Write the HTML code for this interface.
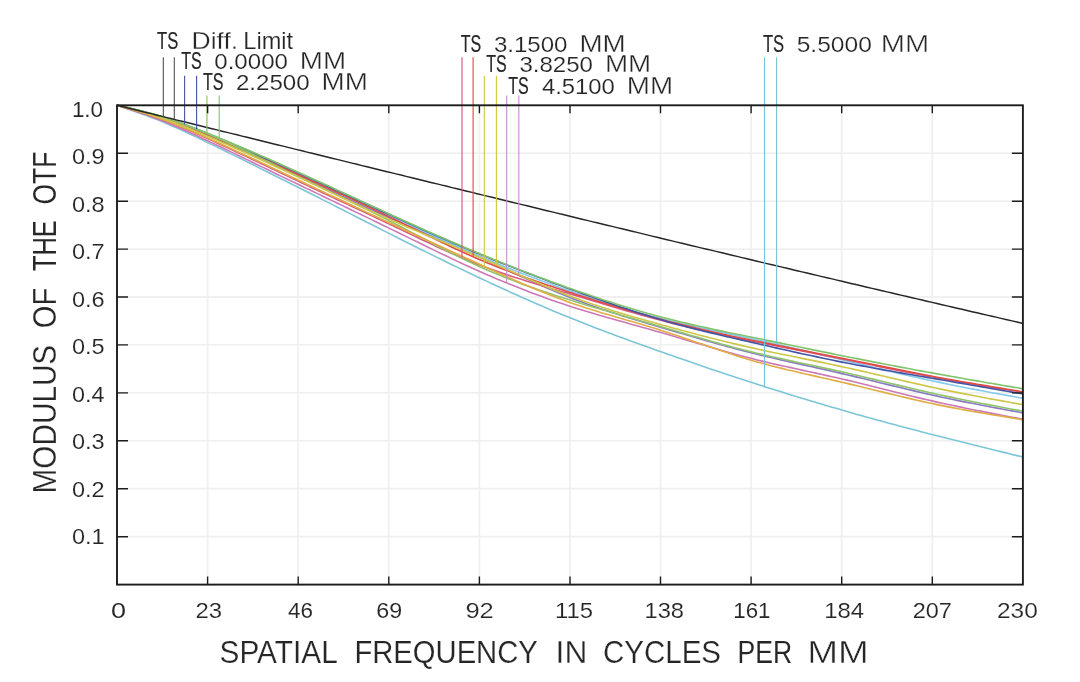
<!DOCTYPE html>
<html lang="en"><head><meta charset="utf-8"><title>MTF</title>
<style>html,body{margin:0;padding:0;background:#fff}svg{display:block}</style></head>
<body>
<svg width="1080" height="682" viewBox="0 0 1080 682">
<rect width="1080" height="682" fill="#fff"/>
<g stroke="#f0f0f1" stroke-width="1.8" fill="none">
<line x1="207.6" y1="105.3" x2="207.6" y2="584.6"/>
<line x1="117.0" y1="153.2" x2="1022.9" y2="153.2"/>
<line x1="298.2" y1="105.3" x2="298.2" y2="584.6"/>
<line x1="117.0" y1="201.2" x2="1022.9" y2="201.2"/>
<line x1="388.8" y1="105.3" x2="388.8" y2="584.6"/>
<line x1="117.0" y1="249.1" x2="1022.9" y2="249.1"/>
<line x1="479.4" y1="105.3" x2="479.4" y2="584.6"/>
<line x1="117.0" y1="297.0" x2="1022.9" y2="297.0"/>
<line x1="570.0" y1="105.3" x2="570.0" y2="584.6"/>
<line x1="117.0" y1="344.9" x2="1022.9" y2="344.9"/>
<line x1="660.5" y1="105.3" x2="660.5" y2="584.6"/>
<line x1="117.0" y1="392.9" x2="1022.9" y2="392.9"/>
<line x1="751.1" y1="105.3" x2="751.1" y2="584.6"/>
<line x1="117.0" y1="440.8" x2="1022.9" y2="440.8"/>
<line x1="841.7" y1="105.3" x2="841.7" y2="584.6"/>
<line x1="117.0" y1="488.7" x2="1022.9" y2="488.7"/>
<line x1="932.3" y1="105.3" x2="932.3" y2="584.6"/>
<line x1="117.0" y1="536.7" x2="1022.9" y2="536.7"/>
</g>
<g fill="none" stroke-width="1.6" stroke-linejoin="round">
<polyline stroke="#7cc6d8" points="117.0,105.3 122.0,107.0 127.0,108.7 132.0,110.4 137.0,112.2 142.0,113.9 147.0,115.8 152.0,117.7 157.0,119.6 162.0,121.6 167.0,123.7 172.0,125.9 177.0,128.1 182.0,130.3 187.0,132.7 192.0,135.0 197.0,137.4 202.0,139.8 207.0,142.2 212.0,144.6 217.0,147.1 222.0,149.5 227.0,152.0 232.0,154.4 237.0,156.9 242.0,159.3 247.0,161.8 252.0,164.2 257.0,166.7 262.0,169.2 267.0,171.7 272.0,174.2 277.0,176.7 282.0,179.2 287.0,181.7 292.0,184.2 297.0,186.7 302.0,189.2 307.0,191.8 312.0,194.3 317.0,196.8 322.0,199.4 327.0,201.9 332.0,204.4 337.0,207.0 342.0,209.5 347.0,212.1 352.0,214.6 357.0,217.2 362.0,219.7 367.0,222.3 372.0,224.8 377.0,227.3 382.0,229.9 387.0,232.4 392.0,234.9 397.0,237.5 402.0,240.0 407.0,242.5 412.0,245.0 417.0,247.5 422.0,250.0 427.0,252.4 432.0,254.9 437.0,257.4 442.0,259.8 447.0,262.3 452.0,264.7 457.0,267.1 462.0,269.5 467.0,271.9 472.0,274.3 477.0,276.7 482.0,279.0 487.0,281.4 492.0,283.7 497.0,286.0 502.0,288.3 507.0,290.6 512.0,292.9 517.0,295.1 522.0,297.4 527.0,299.6 532.0,301.8 537.0,304.0 542.0,306.1 547.0,308.3 552.0,310.4 557.0,312.5 562.0,314.6 567.0,316.6 572.0,318.6 577.0,320.6 582.0,322.6 587.0,324.6 592.0,326.5 597.0,328.4 602.0,330.3 607.0,332.2 612.0,334.1 617.0,336.0 622.0,337.8 627.0,339.6 632.0,341.4 637.0,343.2 642.0,345.0 647.0,346.8 652.0,348.6 657.0,350.4 662.0,352.1 667.0,353.9 672.0,355.6 677.0,357.4 682.0,359.1 687.0,360.8 692.0,362.5 697.0,364.3 702.0,366.0 707.0,367.7 712.0,369.4 717.0,371.0 722.0,372.7 727.0,374.4 732.0,376.0 737.0,377.7 742.0,379.3 747.0,381.0 752.0,382.6 757.0,384.2 762.0,385.8 767.0,387.4 772.0,389.0 777.0,390.5 782.0,392.1 787.0,393.7 792.0,395.2 797.0,396.7 802.0,398.3 807.0,399.8 812.0,401.3 817.0,402.8 822.0,404.2 827.0,405.7 832.0,407.2 837.0,408.6 842.0,410.1 847.0,411.5 852.0,412.9 857.0,414.4 862.0,415.8 867.0,417.2 872.0,418.5 877.0,419.9 882.0,421.3 887.0,422.7 892.0,424.0 897.0,425.3 902.0,426.7 907.0,428.0 912.0,429.3 917.0,430.6 922.0,431.9 927.0,433.2 932.0,434.5 937.0,435.8 942.0,437.1 947.0,438.3 952.0,439.6 957.0,440.8 962.0,442.1 967.0,443.3 972.0,444.6 977.0,445.8 982.0,447.0 987.0,448.3 992.0,449.5 997.0,450.7 1002.0,451.9 1007.0,453.1 1012.0,454.4 1017.0,455.6 1022.0,456.8 1022.9,457.0"/>
<polyline stroke="#cc78b8" points="117.0,105.3 122.0,106.9 127.0,108.5 132.0,110.1 137.0,111.7 142.0,113.4 147.0,115.1 152.0,116.9 157.0,118.8 162.0,120.7 167.0,122.7 172.0,124.7 177.0,126.9 182.0,129.0 187.0,131.3 192.0,133.5 197.0,135.8 202.0,138.2 207.0,140.5 212.0,142.9 217.0,145.3 222.0,147.6 227.0,150.0 232.0,152.4 237.0,154.8 242.0,157.2 247.0,159.6 252.0,162.0 257.0,164.5 262.0,166.9 267.0,169.3 272.0,171.7 277.0,174.2 282.0,176.6 287.0,179.0 292.0,181.4 297.0,183.8 302.0,186.2 307.0,188.6 312.0,191.0 317.0,193.4 322.0,195.8 327.0,198.2 332.0,200.6 337.0,203.0 342.0,205.4 347.0,207.8 352.0,210.2 357.0,212.6 362.0,215.0 367.0,217.4 372.0,219.9 377.0,222.3 382.0,224.7 387.0,227.1 392.0,229.6 397.0,232.0 402.0,234.5 407.0,236.9 412.0,239.4 417.0,241.8 422.0,244.3 427.0,246.7 432.0,249.1 437.0,251.6 442.0,254.0 447.0,256.3 452.0,258.7 457.0,261.1 462.0,263.4 467.0,265.7 472.0,268.0 477.0,270.2 482.0,272.5 487.0,274.7 492.0,276.8 497.0,279.0 502.0,281.0 507.0,283.1 512.0,285.1 517.0,287.1 522.0,289.1 527.0,291.0 532.0,292.9 537.0,294.8 542.0,296.6 547.0,298.4 552.0,300.2 557.0,301.9 562.0,303.6 567.0,305.2 572.0,306.9 577.0,308.4 582.0,310.0 587.0,311.5 592.0,313.0 597.0,314.5 602.0,315.9 607.0,317.4 612.0,318.8 617.0,320.2 622.0,321.6 627.0,323.0 632.0,324.4 637.0,325.8 642.0,327.2 647.0,328.6 652.0,330.0 657.0,331.4 662.0,332.8 667.0,334.3 672.0,335.7 677.0,337.2 682.0,338.7 687.0,340.2 692.0,341.7 697.0,343.2 702.0,344.6 707.0,346.1 712.0,347.6 717.0,349.0 722.0,350.5 727.0,351.9 732.0,353.3 737.0,354.7 742.0,356.0 747.0,357.3 752.0,358.6 757.0,359.9 762.0,361.1 767.0,362.3 772.0,363.5 777.0,364.6 782.0,365.7 787.0,366.8 792.0,367.9 797.0,369.0 802.0,370.1 807.0,371.2 812.0,372.3 817.0,373.4 822.0,374.5 827.0,375.6 832.0,376.7 837.0,377.8 842.0,379.0 847.0,380.1 852.0,381.3 857.0,382.5 862.0,383.7 867.0,385.0 872.0,386.2 877.0,387.5 882.0,388.7 887.0,390.0 892.0,391.2 897.0,392.5 902.0,393.7 907.0,395.0 912.0,396.2 917.0,397.4 922.0,398.6 927.0,399.8 932.0,400.9 937.0,402.1 942.0,403.2 947.0,404.3 952.0,405.3 957.0,406.4 962.0,407.4 967.0,408.5 972.0,409.5 977.0,410.5 982.0,411.4 987.0,412.4 992.0,413.4 997.0,414.3 1002.0,415.3 1007.0,416.2 1012.0,417.2 1017.0,418.1 1022.0,419.0 1022.9,419.2"/>
<polyline stroke="#8a7ac2" points="117.0,105.3 122.0,106.5 127.0,107.8 132.0,109.1 137.0,110.4 142.0,111.7 147.0,113.1 152.0,114.6 157.0,116.1 162.0,117.7 167.0,119.4 172.0,121.1 177.0,123.0 182.0,124.9 187.0,126.8 192.0,128.8 197.0,130.9 202.0,133.0 207.0,135.1 212.0,137.2 217.0,139.3 222.0,141.4 227.0,143.6 232.0,145.8 237.0,147.9 242.0,150.1 247.0,152.4 252.0,154.6 257.0,156.8 262.0,159.1 267.0,161.3 272.0,163.6 277.0,165.9 282.0,168.1 287.0,170.4 292.0,172.7 297.0,175.1 302.0,177.4 307.0,179.7 312.0,182.0 317.0,184.4 322.0,186.7 327.0,189.1 332.0,191.4 337.0,193.7 342.0,196.1 347.0,198.4 352.0,200.7 357.0,203.1 362.0,205.4 367.0,207.7 372.0,209.9 377.0,212.2 382.0,214.5 387.0,216.7 392.0,218.9 397.0,221.1 402.0,223.3 407.0,225.5 412.0,227.7 417.0,229.8 422.0,232.0 427.0,234.1 432.0,236.3 437.0,238.4 442.0,240.6 447.0,242.7 452.0,244.9 457.0,247.1 462.0,249.3 467.0,251.5 472.0,253.7 477.0,255.9 482.0,258.2 487.0,260.5 492.0,262.8 497.0,265.1 502.0,267.4 507.0,269.7 512.0,272.1 517.0,274.4 522.0,276.7 527.0,279.0 532.0,281.3 537.0,283.5 542.0,285.7 547.0,287.9 552.0,290.1 557.0,292.2 562.0,294.3 567.0,296.3 572.0,298.3 577.0,300.2 582.0,302.1 587.0,303.9 592.0,305.7 597.0,307.5 602.0,309.2 607.0,310.8 612.0,312.5 617.0,314.1 622.0,315.7 627.0,317.2 632.0,318.8 637.0,320.3 642.0,321.8 647.0,323.3 652.0,324.8 657.0,326.3 662.0,327.7 667.0,329.2 672.0,330.7 677.0,332.2 682.0,333.6 687.0,335.1 692.0,336.6 697.0,338.0 702.0,339.5 707.0,340.9 712.0,342.3 717.0,343.7 722.0,345.1 727.0,346.5 732.0,347.8 737.0,349.2 742.0,350.5 747.0,351.8 752.0,353.0 757.0,354.3 762.0,355.5 767.0,356.7 772.0,357.8 777.0,359.0 782.0,360.1 787.0,361.3 792.0,362.4 797.0,363.5 802.0,364.6 807.0,365.7 812.0,366.8 817.0,367.9 822.0,369.0 827.0,370.1 832.0,371.3 837.0,372.4 842.0,373.6 847.0,374.7 852.0,375.9 857.0,377.1 862.0,378.3 867.0,379.5 872.0,380.7 877.0,382.0 882.0,383.2 887.0,384.4 892.0,385.6 897.0,386.8 902.0,388.0 907.0,389.2 912.0,390.4 917.0,391.6 922.0,392.8 927.0,393.9 932.0,395.0 937.0,396.1 942.0,397.2 947.0,398.3 952.0,399.3 957.0,400.4 962.0,401.4 967.0,402.4 972.0,403.3 977.0,404.3 982.0,405.3 987.0,406.2 992.0,407.2 997.0,408.1 1002.0,409.0 1007.0,410.0 1012.0,410.9 1017.0,411.8 1022.0,412.7 1022.9,412.9"/>
<polyline stroke="#84cbec" points="117.0,105.3 122.0,106.5 127.0,107.6 132.0,108.8 137.0,110.1 142.0,111.3 147.0,112.7 152.0,114.1 157.0,115.5 162.0,117.0 167.0,118.7 172.0,120.4 177.0,122.1 182.0,124.0 187.0,125.9 192.0,127.8 197.0,129.8 202.0,131.8 207.0,133.9 212.0,135.9 217.0,138.0 222.0,140.1 227.0,142.2 232.0,144.3 237.0,146.5 242.0,148.6 247.0,150.8 252.0,153.0 257.0,155.2 262.0,157.4 267.0,159.6 272.0,161.8 277.0,164.1 282.0,166.3 287.0,168.6 292.0,170.8 297.0,173.1 302.0,175.3 307.0,177.6 312.0,179.9 317.0,182.2 322.0,184.4 327.0,186.7 332.0,189.0 337.0,191.3 342.0,193.6 347.0,195.9 352.0,198.2 357.0,200.5 362.0,202.8 367.0,205.1 372.0,207.4 377.0,209.8 382.0,212.1 387.0,214.4 392.0,216.7 397.0,219.0 402.0,221.3 407.0,223.6 412.0,225.9 417.0,228.2 422.0,230.5 427.0,232.8 432.0,235.1 437.0,237.4 442.0,239.6 447.0,241.9 452.0,244.1 457.0,246.3 462.0,248.5 467.0,250.7 472.0,252.8 477.0,255.0 482.0,257.1 487.0,259.2 492.0,261.3 497.0,263.4 502.0,265.4 507.0,267.4 512.0,269.4 517.0,271.4 522.0,273.4 527.0,275.3 532.0,277.2 537.0,279.1 542.0,281.0 547.0,282.8 552.0,284.6 557.0,286.4 562.0,288.2 567.0,290.0 572.0,291.7 577.0,293.4 582.0,295.1 587.0,296.8 592.0,298.4 597.0,300.1 602.0,301.7 607.0,303.2 612.0,304.8 617.0,306.3 622.0,307.8 627.0,309.3 632.0,310.7 637.0,312.1 642.0,313.5 647.0,314.9 652.0,316.2 657.0,317.5 662.0,318.8 667.0,320.0 672.0,321.2 677.0,322.4 682.0,323.6 687.0,324.7 692.0,325.9 697.0,327.0 702.0,328.1 707.0,329.2 712.0,330.2 717.0,331.3 722.0,332.4 727.0,333.4 732.0,334.5 737.0,335.6 742.0,336.6 747.0,337.7 752.0,338.8 757.0,339.9 762.0,341.0 767.0,342.1 772.0,343.2 777.0,344.4 782.0,345.5 787.0,346.6 792.0,347.8 797.0,349.0 802.0,350.1 807.0,351.3 812.0,352.5 817.0,353.7 822.0,354.9 827.0,356.1 832.0,357.3 837.0,358.5 842.0,359.7 847.0,360.9 852.0,362.1 857.0,363.3 862.0,364.5 867.0,365.7 872.0,367.0 877.0,368.2 882.0,369.4 887.0,370.6 892.0,371.7 897.0,372.9 902.0,374.1 907.0,375.3 912.0,376.4 917.0,377.5 922.0,378.6 927.0,379.7 932.0,380.8 937.0,381.9 942.0,382.9 947.0,384.0 952.0,385.0 957.0,386.0 962.0,387.0 967.0,388.0 972.0,388.9 977.0,389.9 982.0,390.8 987.0,391.7 992.0,392.7 997.0,393.6 1002.0,394.5 1007.0,395.4 1012.0,396.3 1017.0,397.2 1022.0,398.1 1022.9,398.3"/>
<polyline stroke="#d85c80" points="117.0,105.3 122.0,106.8 127.0,108.2 132.0,109.7 137.0,111.2 142.0,112.7 147.0,114.3 152.0,116.0 157.0,117.7 162.0,119.5 167.0,121.4 172.0,123.3 177.0,125.3 182.0,127.4 187.0,129.5 192.0,131.6 197.0,133.8 202.0,136.1 207.0,138.3 212.0,140.6 217.0,142.9 222.0,145.2 227.0,147.5 232.0,149.9 237.0,152.2 242.0,154.5 247.0,156.9 252.0,159.3 257.0,161.6 262.0,164.0 267.0,166.4 272.0,168.8 277.0,171.1 282.0,173.5 287.0,175.9 292.0,178.3 297.0,180.6 302.0,183.0 307.0,185.4 312.0,187.7 317.0,190.1 322.0,192.4 327.0,194.7 332.0,197.1 337.0,199.4 342.0,201.8 347.0,204.1 352.0,206.4 357.0,208.8 362.0,211.1 367.0,213.5 372.0,215.8 377.0,218.2 382.0,220.6 387.0,223.0 392.0,225.3 397.0,227.7 402.0,230.1 407.0,232.5 412.0,234.9 417.0,237.3 422.0,239.7 427.0,242.0 432.0,244.4 437.0,246.7 442.0,248.9 447.0,251.2 452.0,253.4 457.0,255.6 462.0,257.7 467.0,259.8 472.0,261.9 477.0,263.9 482.0,265.8 487.0,267.7 492.0,269.5 497.0,271.3 502.0,273.0 507.0,274.7 512.0,276.4 517.0,278.0 522.0,279.6 527.0,281.2 532.0,282.7 537.0,284.2 542.0,285.7 547.0,287.2 552.0,288.7 557.0,290.2 562.0,291.7 567.0,293.1 572.0,294.6 577.0,296.1 582.0,297.6 587.0,299.1 592.0,300.6 597.0,302.1 602.0,303.6 607.0,305.0 612.0,306.5 617.0,308.0 622.0,309.5 627.0,310.9 632.0,312.3 637.0,313.8 642.0,315.2 647.0,316.6 652.0,317.9 657.0,319.3 662.0,320.6 667.0,321.9 672.0,323.1 677.0,324.4 682.0,325.6 687.0,326.8 692.0,328.0 697.0,329.1 702.0,330.3 707.0,331.4 712.0,332.5 717.0,333.6 722.0,334.7 727.0,335.8 732.0,336.8 737.0,337.9 742.0,338.9 747.0,340.0 752.0,341.0 757.0,342.0 762.0,343.0 767.0,344.0 772.0,345.0 777.0,346.0 782.0,347.0 787.0,348.0 792.0,349.0 797.0,350.0 802.0,351.0 807.0,352.0 812.0,353.0 817.0,354.0 822.0,355.0 827.0,356.0 832.0,357.0 837.0,358.0 842.0,359.0 847.0,360.0 852.0,361.0 857.0,362.0 862.0,363.0 867.0,364.0 872.0,365.0 877.0,366.1 882.0,367.1 887.0,368.1 892.0,369.1 897.0,370.1 902.0,371.1 907.0,372.1 912.0,373.0 917.0,374.0 922.0,375.0 927.0,375.9 932.0,376.8 937.0,377.8 942.0,378.7 947.0,379.6 952.0,380.5 957.0,381.3 962.0,382.2 967.0,383.1 972.0,383.9 977.0,384.8 982.0,385.6 987.0,386.4 992.0,387.3 997.0,388.1 1002.0,388.9 1007.0,389.7 1012.0,390.5 1017.0,391.3 1022.0,392.2 1022.9,392.3"/>
<polyline stroke="#e04c44" points="117.0,105.3 122.0,106.5 127.0,107.7 132.0,109.0 137.0,110.2 142.0,111.5 147.0,112.9 152.0,114.3 157.0,115.8 162.0,117.4 167.0,119.0 172.0,120.7 177.0,122.6 182.0,124.4 187.0,126.3 192.0,128.3 197.0,130.3 202.0,132.4 207.0,134.5 212.0,136.5 217.0,138.7 222.0,140.8 227.0,142.9 232.0,145.1 237.0,147.3 242.0,149.5 247.0,151.7 252.0,153.9 257.0,156.1 262.0,158.3 267.0,160.6 272.0,162.8 277.0,165.0 282.0,167.3 287.0,169.5 292.0,171.8 297.0,174.1 302.0,176.3 307.0,178.6 312.0,180.9 317.0,183.1 322.0,185.4 327.0,187.7 332.0,189.9 337.0,192.2 342.0,194.5 347.0,196.8 352.0,199.1 357.0,201.5 362.0,203.8 367.0,206.1 372.0,208.5 377.0,210.9 382.0,213.2 387.0,215.6 392.0,218.1 397.0,220.5 402.0,222.9 407.0,225.4 412.0,227.8 417.0,230.3 422.0,232.8 427.0,235.2 432.0,237.6 437.0,240.1 442.0,242.5 447.0,244.8 452.0,247.2 457.0,249.5 462.0,251.8 467.0,254.1 472.0,256.3 477.0,258.5 482.0,260.6 487.0,262.7 492.0,264.8 497.0,266.8 502.0,268.7 507.0,270.6 512.0,272.5 517.0,274.4 522.0,276.2 527.0,278.0 532.0,279.7 537.0,281.5 542.0,283.2 547.0,284.9 552.0,286.5 557.0,288.2 562.0,289.8 567.0,291.4 572.0,293.1 577.0,294.7 582.0,296.2 587.0,297.8 592.0,299.4 597.0,300.9 602.0,302.5 607.0,304.0 612.0,305.5 617.0,307.0 622.0,308.5 627.0,309.9 632.0,311.3 637.0,312.8 642.0,314.2 647.0,315.6 652.0,316.9 657.0,318.3 662.0,319.6 667.0,320.9 672.0,322.2 677.0,323.4 682.0,324.7 687.0,325.9 692.0,327.1 697.0,328.3 702.0,329.5 707.0,330.6 712.0,331.7 717.0,332.9 722.0,334.0 727.0,335.1 732.0,336.2 737.0,337.2 742.0,338.3 747.0,339.3 752.0,340.4 757.0,341.4 762.0,342.4 767.0,343.4 772.0,344.4 777.0,345.4 782.0,346.4 787.0,347.4 792.0,348.4 797.0,349.4 802.0,350.4 807.0,351.3 812.0,352.3 817.0,353.3 822.0,354.3 827.0,355.3 832.0,356.3 837.0,357.3 842.0,358.3 847.0,359.3 852.0,360.3 857.0,361.3 862.0,362.3 867.0,363.3 872.0,364.3 877.0,365.4 882.0,366.4 887.0,367.4 892.0,368.4 897.0,369.4 902.0,370.4 907.0,371.4 912.0,372.4 917.0,373.4 922.0,374.3 927.0,375.3 932.0,376.2 937.0,377.2 942.0,378.1 947.0,379.0 952.0,379.9 957.0,380.8 962.0,381.7 967.0,382.5 972.0,383.4 977.0,384.2 982.0,385.1 987.0,385.9 992.0,386.7 997.0,387.6 1002.0,388.4 1007.0,389.2 1012.0,390.0 1017.0,390.8 1022.0,391.7 1022.9,391.8"/>
<polyline stroke="#4454a4" points="117.0,105.3 122.0,106.4 127.0,107.6 132.0,108.8 137.0,110.0 142.0,111.2 147.0,112.5 152.0,113.8 157.0,115.3 162.0,116.8 167.0,118.4 172.0,120.0 177.0,121.8 182.0,123.6 187.0,125.5 192.0,127.4 197.0,129.3 202.0,131.3 207.0,133.4 212.0,135.4 217.0,137.5 222.0,139.5 227.0,141.6 232.0,143.7 237.0,145.9 242.0,148.0 247.0,150.1 252.0,152.3 257.0,154.5 262.0,156.7 267.0,158.9 272.0,161.1 277.0,163.3 282.0,165.5 287.0,167.8 292.0,170.0 297.0,172.3 302.0,174.5 307.0,176.8 312.0,179.1 317.0,181.4 322.0,183.6 327.0,185.9 332.0,188.2 337.0,190.5 342.0,192.8 347.0,195.1 352.0,197.4 357.0,199.7 362.0,202.0 367.0,204.3 372.0,206.6 377.0,208.9 382.0,211.2 387.0,213.5 392.0,215.8 397.0,218.0 402.0,220.3 407.0,222.6 412.0,224.8 417.0,227.1 422.0,229.3 427.0,231.5 432.0,233.7 437.0,235.9 442.0,238.1 447.0,240.3 452.0,242.5 457.0,244.6 462.0,246.7 467.0,248.8 472.0,250.9 477.0,253.0 482.0,255.1 487.0,257.1 492.0,259.2 497.0,261.2 502.0,263.2 507.0,265.1 512.0,267.1 517.0,269.1 522.0,271.0 527.0,272.9 532.0,274.8 537.0,276.7 542.0,278.6 547.0,280.5 552.0,282.4 557.0,284.2 562.0,286.1 567.0,287.9 572.0,289.8 577.0,291.6 582.0,293.4 587.0,295.2 592.0,297.0 597.0,298.8 602.0,300.6 607.0,302.3 612.0,304.0 617.0,305.8 622.0,307.4 627.0,309.1 632.0,310.8 637.0,312.4 642.0,314.0 647.0,315.5 652.0,317.1 657.0,318.6 662.0,320.0 667.0,321.5 672.0,322.9 677.0,324.2 682.0,325.6 687.0,326.9 692.0,328.2 697.0,329.4 702.0,330.7 707.0,331.9 712.0,333.1 717.0,334.3 722.0,335.5 727.0,336.7 732.0,337.8 737.0,339.0 742.0,340.1 747.0,341.3 752.0,342.4 757.0,343.5 762.0,344.7 767.0,345.8 772.0,347.0 777.0,348.1 782.0,349.2 787.0,350.3 792.0,351.5 797.0,352.6 802.0,353.7 807.0,354.8 812.0,355.8 817.0,356.9 822.0,358.0 827.0,359.0 832.0,360.0 837.0,361.1 842.0,362.1 847.0,363.0 852.0,364.0 857.0,365.0 862.0,365.9 867.0,366.8 872.0,367.8 877.0,368.7 882.0,369.6 887.0,370.5 892.0,371.3 897.0,372.2 902.0,373.1 907.0,374.0 912.0,374.8 917.0,375.7 922.0,376.5 927.0,377.4 932.0,378.2 937.0,379.1 942.0,380.0 947.0,380.8 952.0,381.7 957.0,382.6 962.0,383.4 967.0,384.3 972.0,385.2 977.0,386.0 982.0,386.9 987.0,387.8 992.0,388.6 997.0,389.5 1002.0,390.4 1007.0,391.2 1012.0,392.1 1017.0,393.0 1022.0,393.8 1022.9,394.0"/>
<polyline stroke="#80c46e" points="117.0,105.3 122.0,106.4 127.0,107.5 132.0,108.7 137.0,109.9 142.0,111.1 147.0,112.4 152.0,113.7 157.0,115.1 162.0,116.6 167.0,118.2 172.0,119.8 177.0,121.6 182.0,123.4 187.0,125.2 192.0,127.1 197.0,129.1 202.0,131.1 207.0,133.1 212.0,135.1 217.0,137.1 222.0,139.2 227.0,141.3 232.0,143.3 237.0,145.4 242.0,147.6 247.0,149.7 252.0,151.8 257.0,154.0 262.0,156.2 267.0,158.3 272.0,160.5 277.0,162.7 282.0,165.0 287.0,167.2 292.0,169.4 297.0,171.7 302.0,173.9 307.0,176.2 312.0,178.5 317.0,180.7 322.0,183.0 327.0,185.3 332.0,187.6 337.0,189.9 342.0,192.2 347.0,194.5 352.0,196.8 357.0,199.1 362.0,201.4 367.0,203.7 372.0,206.0 377.0,208.3 382.0,210.6 387.0,212.9 392.0,215.2 397.0,217.5 402.0,219.7 407.0,222.0 412.0,224.3 417.0,226.5 422.0,228.8 427.0,231.0 432.0,233.2 437.0,235.4 442.0,237.6 447.0,239.8 452.0,242.0 457.0,244.1 462.0,246.3 467.0,248.4 472.0,250.5 477.0,252.6 482.0,254.7 487.0,256.8 492.0,258.8 497.0,260.8 502.0,262.8 507.0,264.8 512.0,266.8 517.0,268.7 522.0,270.7 527.0,272.6 532.0,274.5 537.0,276.4 542.0,278.2 547.0,280.1 552.0,281.9 557.0,283.8 562.0,285.6 567.0,287.4 572.0,289.1 577.0,290.9 582.0,292.6 587.0,294.3 592.0,296.0 597.0,297.7 602.0,299.4 607.0,301.0 612.0,302.6 617.0,304.2 622.0,305.8 627.0,307.3 632.0,308.8 637.0,310.3 642.0,311.8 647.0,313.2 652.0,314.6 657.0,316.0 662.0,317.3 667.0,318.6 672.0,319.8 677.0,321.1 682.0,322.3 687.0,323.4 692.0,324.6 697.0,325.7 702.0,326.8 707.0,327.9 712.0,329.0 717.0,330.1 722.0,331.1 727.0,332.2 732.0,333.2 737.0,334.2 742.0,335.2 747.0,336.3 752.0,337.3 757.0,338.3 762.0,339.3 767.0,340.4 772.0,341.4 777.0,342.4 782.0,343.4 787.0,344.5 792.0,345.5 797.0,346.5 802.0,347.5 807.0,348.6 812.0,349.6 817.0,350.6 822.0,351.6 827.0,352.6 832.0,353.6 837.0,354.7 842.0,355.7 847.0,356.7 852.0,357.7 857.0,358.6 862.0,359.6 867.0,360.6 872.0,361.6 877.0,362.6 882.0,363.5 887.0,364.5 892.0,365.5 897.0,366.4 902.0,367.4 907.0,368.3 912.0,369.3 917.0,370.2 922.0,371.1 927.0,372.0 932.0,372.9 937.0,373.9 942.0,374.8 947.0,375.6 952.0,376.5 957.0,377.4 962.0,378.3 967.0,379.2 972.0,380.1 977.0,380.9 982.0,381.8 987.0,382.7 992.0,383.5 997.0,384.4 1002.0,385.2 1007.0,386.1 1012.0,386.9 1017.0,387.8 1022.0,388.6 1022.9,388.8"/>
<polyline stroke="#90c46c" points="117.0,105.3 122.0,106.5 127.0,107.6 132.0,108.8 137.0,110.0 142.0,111.3 147.0,112.6 152.0,114.0 157.0,115.4 162.0,116.9 167.0,118.5 172.0,120.1 177.0,121.8 182.0,123.6 187.0,125.5 192.0,127.4 197.0,129.4 202.0,131.5 207.0,133.6 212.0,135.7 217.0,137.9 222.0,140.1 227.0,142.3 232.0,144.6 237.0,146.9 242.0,149.3 247.0,151.7 252.0,154.0 257.0,156.4 262.0,158.9 267.0,161.3 272.0,163.7 277.0,166.2 282.0,168.6 287.0,171.1 292.0,173.5 297.0,175.9 302.0,178.3 307.0,180.8 312.0,183.2 317.0,185.5 322.0,187.9 327.0,190.3 332.0,192.7 337.0,195.1 342.0,197.5 347.0,199.9 352.0,202.3 357.0,204.7 362.0,207.2 367.0,209.6 372.0,212.1 377.0,214.6 382.0,217.1 387.0,219.6 392.0,222.2 397.0,224.7 402.0,227.3 407.0,230.0 412.0,232.6 417.0,235.2 422.0,237.8 427.0,240.5 432.0,243.1 437.0,245.7 442.0,248.3 447.0,250.8 452.0,253.4 457.0,255.9 462.0,258.3 467.0,260.7 472.0,263.1 477.0,265.4 482.0,267.7 487.0,269.9 492.0,272.0 497.0,274.1 502.0,276.2 507.0,278.2 512.0,280.1 517.0,282.0 522.0,283.9 527.0,285.7 532.0,287.5 537.0,289.2 542.0,290.9 547.0,292.6 552.0,294.3 557.0,295.9 562.0,297.5 567.0,299.1 572.0,300.6 577.0,302.2 582.0,303.7 587.0,305.2 592.0,306.7 597.0,308.2 602.0,309.6 607.0,311.1 612.0,312.6 617.0,314.0 622.0,315.4 627.0,316.9 632.0,318.3 637.0,319.7 642.0,321.2 647.0,322.6 652.0,324.0 657.0,325.5 662.0,326.9 667.0,328.4 672.0,329.8 677.0,331.3 682.0,332.7 687.0,334.2 692.0,335.7 697.0,337.1 702.0,338.5 707.0,340.0 712.0,341.4 717.0,342.8 722.0,344.2 727.0,345.5 732.0,346.9 737.0,348.2 742.0,349.5 747.0,350.8 752.0,352.0 757.0,353.2 762.0,354.4 767.0,355.6 772.0,356.7 777.0,357.8 782.0,358.9 787.0,360.0 792.0,361.1 797.0,362.2 802.0,363.2 807.0,364.3 812.0,365.3 817.0,366.4 822.0,367.5 827.0,368.6 832.0,369.6 837.0,370.7 842.0,371.9 847.0,373.0 852.0,374.2 857.0,375.3 862.0,376.5 867.0,377.7 872.0,378.9 877.0,380.1 882.0,381.3 887.0,382.5 892.0,383.7 897.0,384.9 902.0,386.1 907.0,387.3 912.0,388.5 917.0,389.7 922.0,390.9 927.0,392.0 932.0,393.1 937.0,394.2 942.0,395.3 947.0,396.4 952.0,397.4 957.0,398.5 962.0,399.5 967.0,400.5 972.0,401.5 977.0,402.5 982.0,403.5 987.0,404.4 992.0,405.4 997.0,406.3 1002.0,407.3 1007.0,408.2 1012.0,409.2 1017.0,410.1 1022.0,411.0 1022.9,411.2"/>
<polyline stroke="#e0ac44" points="117.0,105.3 122.0,106.7 127.0,108.1 132.0,109.6 137.0,111.0 142.0,112.6 147.0,114.1 152.0,115.7 157.0,117.4 162.0,119.2 167.0,121.0 172.0,122.9 177.0,124.9 182.0,126.9 187.0,129.0 192.0,131.1 197.0,133.3 202.0,135.5 207.0,137.7 212.0,140.0 217.0,142.2 222.0,144.5 227.0,146.8 232.0,149.1 237.0,151.4 242.0,153.7 247.0,156.0 252.0,158.3 257.0,160.6 262.0,163.0 267.0,165.3 272.0,167.7 277.0,170.0 282.0,172.4 287.0,174.7 292.0,177.1 297.0,179.4 302.0,181.8 307.0,184.2 312.0,186.5 317.0,188.9 322.0,191.2 327.0,193.6 332.0,195.9 337.0,198.3 342.0,200.6 347.0,203.0 352.0,205.3 357.0,207.7 362.0,210.0 367.0,212.4 372.0,214.7 377.0,217.0 382.0,219.4 387.0,221.7 392.0,224.0 397.0,226.3 402.0,228.6 407.0,230.9 412.0,233.3 417.0,235.6 422.0,237.9 427.0,240.2 432.0,242.5 437.0,244.8 442.0,247.1 447.0,249.4 452.0,251.7 457.0,254.0 462.0,256.2 467.0,258.5 472.0,260.8 477.0,263.1 482.0,265.4 487.0,267.7 492.0,270.0 497.0,272.3 502.0,274.5 507.0,276.8 512.0,279.0 517.0,281.2 522.0,283.4 527.0,285.5 532.0,287.7 537.0,289.8 542.0,291.8 547.0,293.8 552.0,295.8 557.0,297.7 562.0,299.6 567.0,301.4 572.0,303.2 577.0,304.9 582.0,306.6 587.0,308.2 592.0,309.8 597.0,311.3 602.0,312.9 607.0,314.3 612.0,315.8 617.0,317.3 622.0,318.7 627.0,320.2 632.0,321.6 637.0,323.1 642.0,324.6 647.0,326.0 652.0,327.6 657.0,329.1 662.0,330.7 667.0,332.3 672.0,333.9 677.0,335.6 682.0,337.3 687.0,339.0 692.0,340.7 697.0,342.4 702.0,344.1 707.0,345.9 712.0,347.6 717.0,349.3 722.0,351.0 727.0,352.6 732.0,354.3 737.0,355.9 742.0,357.4 747.0,359.0 752.0,360.5 757.0,361.9 762.0,363.3 767.0,364.6 772.0,365.9 777.0,367.2 782.0,368.4 787.0,369.7 792.0,370.8 797.0,372.0 802.0,373.2 807.0,374.3 812.0,375.4 817.0,376.6 822.0,377.7 827.0,378.8 832.0,380.0 837.0,381.1 842.0,382.3 847.0,383.4 852.0,384.6 857.0,385.8 862.0,387.0 867.0,388.3 872.0,389.5 877.0,390.7 882.0,391.9 887.0,393.1 892.0,394.3 897.0,395.5 902.0,396.7 907.0,397.9 912.0,399.1 917.0,400.2 922.0,401.4 927.0,402.5 932.0,403.5 937.0,404.6 942.0,405.6 947.0,406.6 952.0,407.6 957.0,408.5 962.0,409.5 967.0,410.4 972.0,411.3 977.0,412.1 982.0,413.0 987.0,413.8 992.0,414.7 997.0,415.5 1002.0,416.3 1007.0,417.1 1012.0,417.9 1017.0,418.8 1022.0,419.6 1022.9,419.7"/>
<polyline stroke="#cec648" points="117.0,105.3 122.0,106.6 127.0,107.9 132.0,109.2 137.0,110.6 142.0,112.0 147.0,113.4 152.0,115.0 157.0,116.5 162.0,118.2 167.0,119.9 172.0,121.7 177.0,123.6 182.0,125.6 187.0,127.6 192.0,129.6 197.0,131.7 202.0,133.8 207.0,135.9 212.0,138.1 217.0,140.3 222.0,142.4 227.0,144.6 232.0,146.8 237.0,149.0 242.0,151.3 247.0,153.5 252.0,155.8 257.0,158.0 262.0,160.3 267.0,162.6 272.0,164.9 277.0,167.2 282.0,169.5 287.0,171.8 292.0,174.1 297.0,176.4 302.0,178.8 307.0,181.1 312.0,183.5 317.0,185.9 322.0,188.2 327.0,190.6 332.0,192.9 337.0,195.3 342.0,197.6 347.0,200.0 352.0,202.3 357.0,204.6 362.0,206.9 367.0,209.2 372.0,211.5 377.0,213.8 382.0,216.0 387.0,218.2 392.0,220.4 397.0,222.6 402.0,224.7 407.0,226.9 412.0,229.0 417.0,231.1 422.0,233.2 427.0,235.2 432.0,237.3 437.0,239.4 442.0,241.5 447.0,243.5 452.0,245.6 457.0,247.7 462.0,249.8 467.0,251.9 472.0,254.0 477.0,256.2 482.0,258.3 487.0,260.5 492.0,262.7 497.0,264.9 502.0,267.2 507.0,269.4 512.0,271.6 517.0,273.8 522.0,276.0 527.0,278.2 532.0,280.4 537.0,282.6 542.0,284.7 547.0,286.8 552.0,288.9 557.0,290.9 562.0,292.9 567.0,294.9 572.0,296.8 577.0,298.6 582.0,300.4 587.0,302.2 592.0,303.9 597.0,305.6 602.0,307.2 607.0,308.8 612.0,310.4 617.0,312.0 622.0,313.5 627.0,315.0 632.0,316.4 637.0,317.9 642.0,319.3 647.0,320.7 652.0,322.1 657.0,323.5 662.0,324.9 667.0,326.3 672.0,327.7 677.0,329.0 682.0,330.4 687.0,331.7 692.0,333.1 697.0,334.4 702.0,335.7 707.0,337.0 712.0,338.3 717.0,339.5 722.0,340.8 727.0,342.0 732.0,343.2 737.0,344.4 742.0,345.6 747.0,346.8 752.0,347.9 757.0,349.0 762.0,350.1 767.0,351.2 772.0,352.2 777.0,353.3 782.0,354.3 787.0,355.3 792.0,356.3 797.0,357.3 802.0,358.4 807.0,359.4 812.0,360.4 817.0,361.4 822.0,362.4 827.0,363.5 832.0,364.5 837.0,365.6 842.0,366.7 847.0,367.8 852.0,368.9 857.0,370.0 862.0,371.1 867.0,372.3 872.0,373.5 877.0,374.6 882.0,375.8 887.0,377.0 892.0,378.1 897.0,379.3 902.0,380.5 907.0,381.6 912.0,382.8 917.0,383.9 922.0,385.0 927.0,386.1 932.0,387.2 937.0,388.3 942.0,389.4 947.0,390.4 952.0,391.4 957.0,392.4 962.0,393.4 967.0,394.4 972.0,395.3 977.0,396.3 982.0,397.2 987.0,398.2 992.0,399.1 997.0,400.0 1002.0,400.9 1007.0,401.8 1012.0,402.7 1017.0,403.6 1022.0,404.5 1022.9,404.7"/>
<polyline stroke="#262626" stroke-width="1.4" points="117.0,105.3 122.0,106.5 127.0,107.8 132.0,109.0 137.0,110.2 142.0,111.5 147.0,112.7 152.0,113.9 157.0,115.2 162.0,116.4 167.0,117.6 172.0,118.8 177.0,120.1 182.0,121.3 187.0,122.5 192.0,123.8 197.0,125.0 202.0,126.2 207.0,127.5 212.0,128.7 217.0,129.9 222.0,131.2 227.0,132.4 232.0,133.6 237.0,134.8 242.0,136.1 247.0,137.3 252.0,138.5 257.0,139.8 262.0,141.0 267.0,142.2 272.0,143.5 277.0,144.7 282.0,145.9 287.0,147.1 292.0,148.4 297.0,149.6 302.0,150.8 307.0,152.1 312.0,153.3 317.0,154.5 322.0,155.7 327.0,157.0 332.0,158.2 337.0,159.4 342.0,160.6 347.0,161.9 352.0,163.1 357.0,164.3 362.0,165.6 367.0,166.8 372.0,168.0 377.0,169.2 382.0,170.5 387.0,171.7 392.0,172.9 397.0,174.1 402.0,175.3 407.0,176.6 412.0,177.8 417.0,179.0 422.0,180.2 427.0,181.5 432.0,182.7 437.0,183.9 442.0,185.1 447.0,186.3 452.0,187.6 457.0,188.8 462.0,190.0 467.0,191.2 472.0,192.4 477.0,193.7 482.0,194.9 487.0,196.1 492.0,197.3 497.0,198.5 502.0,199.8 507.0,201.0 512.0,202.2 517.0,203.4 522.0,204.6 527.0,205.8 532.0,207.0 537.0,208.3 542.0,209.5 547.0,210.7 552.0,211.9 557.0,213.1 562.0,214.3 567.0,215.5 572.0,216.7 577.0,218.0 582.0,219.2 587.0,220.4 592.0,221.6 597.0,222.8 602.0,224.0 607.0,225.2 612.0,226.4 617.0,227.6 622.0,228.8 627.0,230.0 632.0,231.2 637.0,232.4 642.0,233.6 647.0,234.9 652.0,236.1 657.0,237.3 662.0,238.5 667.0,239.7 672.0,240.9 677.0,242.1 682.0,243.3 687.0,244.5 692.0,245.7 697.0,246.9 702.0,248.1 707.0,249.2 712.0,250.4 717.0,251.6 722.0,252.8 727.0,254.0 732.0,255.2 737.0,256.4 742.0,257.6 747.0,258.8 752.0,260.0 757.0,261.2 762.0,262.4 767.0,263.6 772.0,264.7 777.0,265.9 782.0,267.1 787.0,268.3 792.0,269.5 797.0,270.7 802.0,271.9 807.0,273.0 812.0,274.2 817.0,275.4 822.0,276.6 827.0,277.8 832.0,278.9 837.0,280.1 842.0,281.3 847.0,282.5 852.0,283.7 857.0,284.8 862.0,286.0 867.0,287.2 872.0,288.4 877.0,289.5 882.0,290.7 887.0,291.9 892.0,293.0 897.0,294.2 902.0,295.4 907.0,296.5 912.0,297.7 917.0,298.9 922.0,300.0 927.0,301.2 932.0,302.4 937.0,303.5 942.0,304.7 947.0,305.9 952.0,307.0 957.0,308.2 962.0,309.3 967.0,310.5 972.0,311.7 977.0,312.8 982.0,314.0 987.0,315.1 992.0,316.3 997.0,317.4 1002.0,318.6 1007.0,319.7 1012.0,320.9 1017.0,322.0 1022.0,323.2 1022.9,323.4"/>
</g>
<g stroke-width="1.1" fill="none">
<line x1="163.3" y1="57.3" x2="163.3" y2="116.7" stroke="#505050"/>
<line x1="174.3" y1="57.3" x2="174.3" y2="119.4" stroke="#505050"/>
<line x1="184.6" y1="75.7" x2="184.6" y2="124.6" stroke="#4454a4"/>
<line x1="196.6" y1="75.7" x2="196.6" y2="129.2" stroke="#4454a4"/>
<line x1="206.9" y1="95.4" x2="206.9" y2="133.5" stroke="#86c266"/>
<line x1="219.2" y1="95.4" x2="219.2" y2="138.0" stroke="#86c266"/>
<line x1="462.0" y1="57.3" x2="462.0" y2="257.7" stroke="#d4507a"/>
<line x1="473.1" y1="57.3" x2="473.1" y2="256.8" stroke="#e2463c"/>
<line x1="484.3" y1="76.0" x2="484.3" y2="266.5" stroke="#cfc63e"/>
<line x1="496.4" y1="76.0" x2="496.4" y2="264.7" stroke="#cfc63e"/>
<line x1="506.7" y1="95.6" x2="506.7" y2="283.0" stroke="#c48ccc"/>
<line x1="518.8" y1="95.6" x2="518.8" y2="275.2" stroke="#c48ccc"/>
<line x1="764.5" y1="57.3" x2="764.5" y2="386.6" stroke="#74c4d6"/>
<line x1="776.6" y1="57.3" x2="776.6" y2="344.3" stroke="#74c4d6"/>
</g>
<g stroke="#1c1c1c" stroke-width="1.9" fill="none">
<rect x="117.0" y="105.3" width="905.9" height="479.3"/>
<path stroke-width="1.4" d="M207.6 105.3v8M207.6 584.6v-8M117.0 153.2h11M1022.9 153.2h-11M298.2 105.3v8M298.2 584.6v-8M117.0 201.2h11M1022.9 201.2h-11M388.8 105.3v8M388.8 584.6v-8M117.0 249.1h11M1022.9 249.1h-11M479.4 105.3v8M479.4 584.6v-8M117.0 297.0h11M1022.9 297.0h-11M570.0 105.3v8M570.0 584.6v-8M117.0 344.9h11M1022.9 344.9h-11M660.5 105.3v8M660.5 584.6v-8M117.0 392.9h11M1022.9 392.9h-11M751.1 105.3v8M751.1 584.6v-8M117.0 440.8h11M1022.9 440.8h-11M841.7 105.3v8M841.7 584.6v-8M117.0 488.7h11M1022.9 488.7h-11M932.3 105.3v8M932.3 584.6v-8M117.0 536.7h11M1022.9 536.7h-11"/>
</g>
<g font-family="'Liberation Sans', sans-serif" fill="#262626" stroke="#fff">
<g font-size="23.6">
<text x="157.0" y="48.5" textLength="21.2" lengthAdjust="spacingAndGlyphs" stroke="#262626" stroke-width="0.18">TS</text>
<text x="191.5" y="48.5" textLength="46.7" lengthAdjust="spacingAndGlyphs" stroke-width="0.29">Diff.</text>
<text x="243.3" y="48.5" textLength="49.8" lengthAdjust="spacingAndGlyphs" stroke-width="0.17">Limit</text>
<text x="181.2" y="69.0" textLength="20.5" lengthAdjust="spacingAndGlyphs" stroke="#262626" stroke-width="0.21">TS</text>
<text x="299.8" y="69.0" textLength="46.3" lengthAdjust="spacingAndGlyphs" stroke-width="0.33">MM</text>
<text x="203.0" y="90.4" textLength="20.5" lengthAdjust="spacingAndGlyphs" stroke="#262626" stroke-width="0.21">TS</text>
<text x="321.6" y="90.4" textLength="46.3" lengthAdjust="spacingAndGlyphs" stroke-width="0.33">MM</text>
<text x="460.8" y="51.9" textLength="20.5" lengthAdjust="spacingAndGlyphs" stroke="#262626" stroke-width="0.21">TS</text>
<text x="579.4" y="51.9" textLength="46.3" lengthAdjust="spacingAndGlyphs" stroke-width="0.33">MM</text>
<text x="486.3" y="72.2" textLength="20.5" lengthAdjust="spacingAndGlyphs" stroke="#262626" stroke-width="0.21">TS</text>
<text x="604.9" y="72.2" textLength="46.3" lengthAdjust="spacingAndGlyphs" stroke-width="0.33">MM</text>
<text x="508.2" y="93.6" textLength="20.5" lengthAdjust="spacingAndGlyphs" stroke="#262626" stroke-width="0.21">TS</text>
<text x="626.8" y="93.6" textLength="46.3" lengthAdjust="spacingAndGlyphs" stroke-width="0.33">MM</text>
<text x="762.9" y="52.2" textLength="21.2" lengthAdjust="spacingAndGlyphs" stroke="#262626" stroke-width="0.18">TS</text>
<text x="880.8" y="52.2" textLength="48.4" lengthAdjust="spacingAndGlyphs" stroke-width="0.38">MM</text>
</g>
<g font-size="22.9">
<text x="214.3" y="69.0" textLength="73.6" lengthAdjust="spacingAndGlyphs" stroke-width="0.16">0.0000</text>
<text x="235.9" y="90.4" textLength="73.8" lengthAdjust="spacingAndGlyphs" stroke-width="0.16">2.2500</text>
<text x="493.9" y="51.9" textLength="73.6" lengthAdjust="spacingAndGlyphs" stroke-width="0.16">3.1500</text>
<text x="519.4" y="72.2" textLength="73.6" lengthAdjust="spacingAndGlyphs" stroke-width="0.16">3.8250</text>
<text x="541.9" y="93.6" textLength="73.0" lengthAdjust="spacingAndGlyphs" stroke-width="0.15">4.5100</text>
<text x="796.7" y="52.2" textLength="75.2" lengthAdjust="spacingAndGlyphs" stroke-width="0.18">5.5000</text>
<text x="71.9" y="116.9" textLength="31.2" lengthAdjust="spacingAndGlyphs" stroke-width="0.09">1.0</text>
<text x="71.9" y="164.4" textLength="32.7" lengthAdjust="spacingAndGlyphs" stroke-width="0.13">0.9</text>
<text x="71.9" y="211.8" textLength="32.7" lengthAdjust="spacingAndGlyphs" stroke-width="0.13">0.8</text>
<text x="71.9" y="259.3" textLength="32.7" lengthAdjust="spacingAndGlyphs" stroke-width="0.13">0.7</text>
<text x="71.9" y="306.8" textLength="32.7" lengthAdjust="spacingAndGlyphs" stroke-width="0.13">0.6</text>
<text x="71.9" y="354.2" textLength="32.7" lengthAdjust="spacingAndGlyphs" stroke-width="0.13">0.5</text>
<text x="71.9" y="401.7" textLength="32.5" lengthAdjust="spacingAndGlyphs" stroke-width="0.13">0.4</text>
<text x="71.9" y="449.2" textLength="32.7" lengthAdjust="spacingAndGlyphs" stroke-width="0.13">0.3</text>
<text x="71.9" y="496.7" textLength="32.7" lengthAdjust="spacingAndGlyphs" stroke-width="0.13">0.2</text>
<text x="71.9" y="544.1" textLength="32.7" lengthAdjust="spacingAndGlyphs" stroke-width="0.13">0.1</text>
<text x="111.0" y="618.3" textLength="15.0" lengthAdjust="spacingAndGlyphs" stroke-width="0.05">0</text>
<text x="195.4" y="618.3" textLength="26.6" lengthAdjust="spacingAndGlyphs" stroke-width="0.15">23</text>
<text x="287.9" y="618.3" textLength="25.0" lengthAdjust="spacingAndGlyphs" stroke-width="0.09">46</text>
<text x="376.3" y="618.3" textLength="25.9" lengthAdjust="spacingAndGlyphs" stroke-width="0.12">69</text>
<text x="465.4" y="618.3" textLength="28.4" lengthAdjust="spacingAndGlyphs" stroke-width="0.21">92</text>
<text x="555.0" y="618.3" textLength="38.1" lengthAdjust="spacingAndGlyphs" stroke-width="0.15">115</text>
<text x="644.5" y="618.3" textLength="39.5" lengthAdjust="spacingAndGlyphs" stroke-width="0.14">138</text>
<text x="733.3" y="618.3" textLength="37.2" lengthAdjust="spacingAndGlyphs" stroke-width="0.08">161</text>
<text x="824.2" y="618.3" textLength="39.9" lengthAdjust="spacingAndGlyphs" stroke-width="0.15">184</text>
<text x="912.7" y="618.3" textLength="39.2" lengthAdjust="spacingAndGlyphs" stroke-width="0.13">207</text>
<text x="997.0" y="618.3" textLength="40.8" lengthAdjust="spacingAndGlyphs" stroke-width="0.17">230</text>
</g>
<g font-size="32.0">
<text x="219.6" y="662.8" textLength="118.1" lengthAdjust="spacingAndGlyphs" stroke-width="0.20">SPATIAL</text>
<text x="354.4" y="662.8" textLength="183.4" lengthAdjust="spacingAndGlyphs" stroke-width="0.17">FREQUENCY</text>
<text x="555.6" y="662.8" textLength="31.7" lengthAdjust="spacingAndGlyphs" stroke-width="0.28">IN</text>
<text x="603.1" y="662.8" textLength="117.9" lengthAdjust="spacingAndGlyphs" stroke-width="0.19">CYCLES</text>
<text x="737.5" y="662.8" textLength="54.6" lengthAdjust="spacingAndGlyphs" stroke-width="0.05">PER</text>
<text x="807.3" y="662.8" textLength="61.6" lengthAdjust="spacingAndGlyphs" stroke-width="0.49">MM</text>
</g>
<g font-size="33.0">
<text transform="translate(55.6,493.4) rotate(-90)" textLength="148.6" lengthAdjust="spacingAndGlyphs" stroke-width="0.25">MODULUS</text>
<text transform="translate(55.6,328.2) rotate(-90)" textLength="40.4" lengthAdjust="spacingAndGlyphs" stroke-width="0.22">OF</text>
<text transform="translate(55.6,271.0) rotate(-90)" textLength="50.7" lengthAdjust="spacingAndGlyphs" stroke-width="0.04">THE</text>
<text transform="translate(55.6,204.5) rotate(-90)" textLength="53.0" lengthAdjust="spacingAndGlyphs" stroke-width="0.10">OTF</text>
</g>
</g>
</svg>
</body></html>
